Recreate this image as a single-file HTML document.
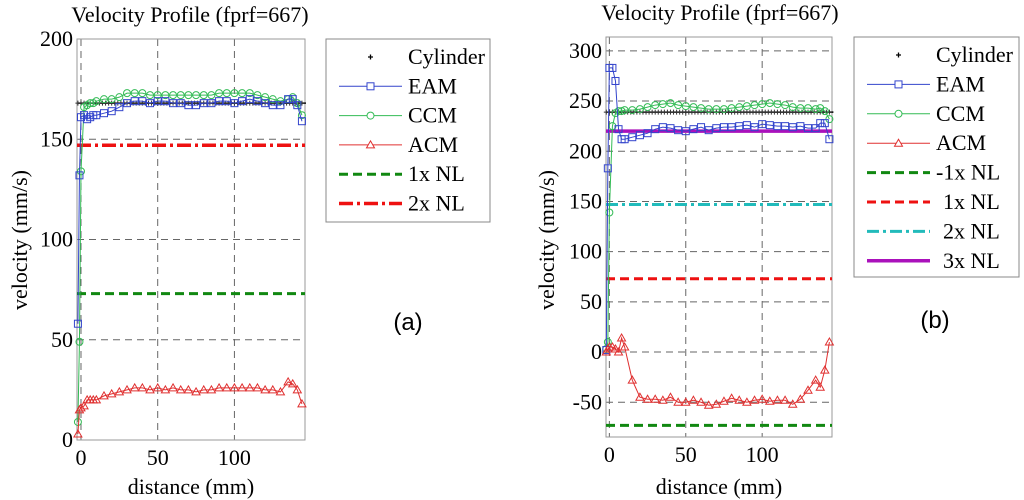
<!DOCTYPE html>
<html><head><meta charset="utf-8"><style>
body{margin:0;background:#fff}
svg{display:block}
text{font-family:"Liberation Serif",serif;fill:#000}
</style></head><body>
<svg id="fig" width="1024" height="500" xmlns="http://www.w3.org/2000/svg"></svg>
<script>
const xs = [-2,-1,0,2,4,6,8,10,15,20,25,30,35,40,45,50,55,60,65,70,75,80,85,90,95,100,105,110,115,120,125,130,135,138,141,144];
const eamA = [58,132,161,162,160,161,162,162,163,164,166,168,169,169,168,169,169,168,168,167,167,168,168,169,169,168,169,170,169,168,167,167,170,170,167,159];
const ccmA = [9,49,134,166,167,168,168,169,170,170,171,173,173,173,172,172,172,172,172,172,172,172,172,173,173,173,173,173,172,171,170,169,170,171,168,162];
const acmA = [3,15,16,17,20,20,20,20,22,23,24,25,26,26,25,26,25,26,25,25,24,25,25,26,26,26,26,26,26,25,25,24,29,28,25,18];
const cylA = 168;
const nlA = [73,147];
const yTicksA = [0,50,100,150,200];
const eamB = [2,183,283,283,270,222,212,212,214,216,218,222,224,223,221,220,222,224,221,223,224,224,225,226,224,227,226,225,225,224,225,223,223,228,228,212];
const ccmB = [3,10,139,225,238,240,240,241,241,242,244,246,247,248,246,245,244,243,242,242,242,243,244,245,246,247,248,247,246,244,243,243,242,243,240,232];
const acmB = [0,3,5,5,3,0,14,5,-28,-45,-47,-47,-48,-45,-50,-50,-48,-50,-53,-52,-49,-46,-48,-50,-48,-47,-49,-48,-48,-52,-47,-38,-28,-35,-18,10];
const cylB = 239;
const nlB = [-73,73,147,220];
const yTicksB = [-50,0,50,100,150,200,250,300];
const xTicks = [0,50,100];

const svg = document.getElementById('fig');
const NS = 'http://www.w3.org/2000/svg';
function mk(tag, attrs, parent){const e=document.createElementNS(NS,tag);for(const k in attrs)e.setAttribute(k,attrs[k]);(parent||svg).appendChild(e);return e;}

function plot(cfg){
  const g = mk('g',{});
  
  
  const X = v => cfg.x0 + (v - cfg.xmin) / (cfg.xmax - cfg.xmin) * (cfg.x1 - cfg.x0);
  const Y = v => cfg.y1 - (v - cfg.ymin) / (cfg.ymax - cfg.ymin) * (cfg.y1 - cfg.y0);
  cfg.yTicks.forEach(t=>{
    const l = mk('line',{x1:cfg.x0,x2:cfg.x1,y1:Y(t),y2:Y(t),stroke:'#666','stroke-width':1,'stroke-dasharray':'7,5'},g);
    
    
    const tx = mk('text',{x:cfg.x0-4,y:Y(t)+7,'text-anchor':'end','font-size':22},g);
    tx.textContent = t;
    
    
  });
  xTicks.forEach(t=>{
    const l = mk('line',{x1:X(t),x2:X(t),y1:cfg.y0,y2:cfg.y1,stroke:'#666','stroke-width':1,'stroke-dasharray':'7,5'},g);
    
    
    const tx = mk('text',{x:X(t),y:cfg.y1+25,'text-anchor':'middle','font-size':22},g);
    tx.textContent = t;
    
    
  });
  const box = mk('rect',{x:cfg.x0,y:cfg.y0,width:cfg.x1-cfg.x0,height:cfg.y1-cfg.y0,fill:'none',stroke:'#999','stroke-width':1},g);
  
  
  cfg.nl.forEach((v,i)=>{
    const s = cfg.nlStyles[i];
    const l = mk('line',{x1:cfg.x0,x2:cfg.x1,y1:Y(v),y2:Y(v),stroke:s.c,'stroke-width':s.w,'stroke-dasharray':s.d},g);
    
    
  });
  function series(vals,color,marker,name){
    const sg = mk('g',{},g);
    
    
    mk('polyline',{points:xs.map((x,i)=>X(x)+','+Y(vals[i])).join(' '),fill:'none',stroke:color,'stroke-width':1},sg);
    xs.forEach((x,i)=>{
      const px=X(x), py=Y(vals[i]);
      if(marker==='sq') mk('rect',{x:px-3.5,y:py-3.5,width:7,height:7,fill:'none',stroke:color,'stroke-width':1},sg);
      else if(marker==='ci') mk('circle',{cx:px,cy:py,r:3.5,fill:'none',stroke:color,'stroke-width':1},sg);
      else mk('path',{d:`M${px},${py-4}L${px+4},${py+3}L${px-4},${py+3}Z`,fill:'none',stroke:color,'stroke-width':1},sg);
    });
  }
  const cg = mk('g',{},g);
  
  
  mk('line',{x1:X(xs[0]),x2:X(xs[xs.length-1])+4,y1:Y(cfg.cyl),y2:Y(cfg.cyl),stroke:'#000','stroke-width':1.5},cg);
  for(let x=-2;x<=145;x+=2){
    const px=X(x),py=Y(cfg.cyl);
    mk('path',{d:`M${px-2.5},${py}H${px+2.5}M${px},${py-2.5}V${py+2.5}`,stroke:'#333','stroke-width':1},cg);
  }
  series(cfg.ccm,'#33bb55','ci','ccm-series');
  series(cfg.eam,'#3344cc','sq','eam-series');
  series(cfg.acm,'#e03030','tr','acm-series');
  const t = mk('text',{x:cfg.titleX,y:cfg.titleY,'text-anchor':'middle','font-size':22},g);
  t.textContent='Velocity Profile (fprf=667)';
  
  
  const xl = mk('text',{x:(cfg.x0+cfg.x1)/2,y:494,'text-anchor':'middle','font-size':22},g);
  xl.textContent='distance (mm)';
  
  
  const yl = mk('text',{x:0,y:0,'text-anchor':'middle','font-size':22,transform:`translate(${cfg.ylx},${cfg.yly}) rotate(-90)`},g);
  yl.textContent='velocity (mm/s)';
  
  
  const pl = mk('text',{x:cfg.panelX,y:cfg.panelY,'text-anchor':'middle','font-size':24,style:'font-family:"Liberation Sans",sans-serif'},g);
  pl.textContent=cfg.panel;
  
  
  const lg = mk('g',{},g);
  
  
  mk('rect',{x:cfg.lx0,y:cfg.ly0,width:cfg.lx1-cfg.lx0,height:cfg.ly1-cfg.ly0,fill:'#fff',stroke:'#888','stroke-width':1},lg);
  cfg.legend.forEach((e,i)=>{
    const y = cfg.ly0+18+i*cfg.lstep;
    const lx0=cfg.lx0+13, lx1=cfg.lx0+76, mx=(lx0+lx1)/2;
    const eg = mk('g',{},lg);
    
    
    if(e.k==='cyl') mk('path',{d:`M${mx-2.5},${y}H${mx+2.5}M${mx},${y-2.5}V${y+2.5}`,stroke:'#000','stroke-width':1.3},eg);
    else if(e.k==='line') mk('line',{x1:lx0,x2:lx1,y1:y,y2:y,stroke:e.c,'stroke-width':e.w,'stroke-dasharray':e.d},eg);
    else {
      mk('line',{x1:lx0,x2:lx1,y1:y,y2:y,stroke:e.c,'stroke-width':1},eg);
      if(e.k==='sq') mk('rect',{x:mx-3.5,y:y-3.5,width:7,height:7,fill:'#fff',stroke:e.c},eg);
      else if(e.k==='ci') mk('circle',{cx:mx,cy:y,r:3.5,fill:'#fff',stroke:e.c},eg);
      else mk('path',{d:`M${mx},${y-4}L${mx+4},${y+3}L${mx-4},${y+3}Z`,fill:'#fff',stroke:e.c},eg);
    }
    const tx = mk('text',{x:cfg.lx0+82+(e.off||0),y:y+7,'font-size':22},eg);
    tx.textContent=e.t;
  });
}

plot({name:'chart-a',x0:77,x1:305,y0:39,y1:440,xmin:-2.6,xmax:146,ymin:0,ymax:200,
  yTicks:yTicksA,eam:eamA,ccm:ccmA,acm:acmA,cyl:cylA,nl:nlA,
  nlStyles:[{c:'#118811',w:3,d:'9,5'},{c:'#ee1111',w:3.5,d:'14,4,3,4'}],
  titleX:190,titleY:22,ylx:27,yly:240,panel:'(a)',panelX:408,panelY:330,
  lx0:326,lx1:490,ly0:39,ly1:222,lstep:29.3,
  legend:[{k:'cyl',t:'Cylinder'},{k:'sq',c:'#3344cc',t:'EAM'},{k:'ci',c:'#33bb55',t:'CCM'},{k:'tr',c:'#e03030',t:'ACM'},
    {k:'line',c:'#118811',w:3,d:'9,5',t:'1x NL'},{k:'line',c:'#ee1111',w:3.5,d:'14,4,3,4',t:'2x NL'}]});

plot({name:'chart-b',x0:606,x1:832,y0:37,y1:437,xmin:-2.2,xmax:145.7,ymin:-84.6,ymax:313.8,
  yTicks:yTicksB,eam:eamB,ccm:ccmB,acm:acmB,cyl:cylB,nl:nlB,
  nlStyles:[{c:'#118811',w:3,d:'9,5'},{c:'#ee1111',w:3,d:'9,5'},{c:'#22bbbb',w:3,d:'12,4,3,4'},{c:'#aa11bb',w:3.5,d:''}],
  titleX:720,titleY:20,ylx:554,yly:240,panel:'(b)',panelX:935,panelY:328,
  lx0:854,lx1:1019,ly0:37,ly1:277,lstep:29.4,
  legend:[{k:'cyl',t:'Cylinder'},{k:'sq',c:'#3344cc',t:'EAM'},{k:'ci',c:'#33bb55',t:'CCM'},{k:'tr',c:'#e03030',t:'ACM'},
    {k:'line',c:'#118811',w:3,d:'9,5',t:'-1x NL'},{k:'line',c:'#ee1111',w:3,d:'9,5',t:'1x NL',off:7},
    {k:'line',c:'#22bbbb',w:3,d:'12,4,3,4',t:'2x NL',off:7},{k:'line',c:'#aa11bb',w:3.5,d:'',t:'3x NL',off:7}]});
</script>
</body></html>
